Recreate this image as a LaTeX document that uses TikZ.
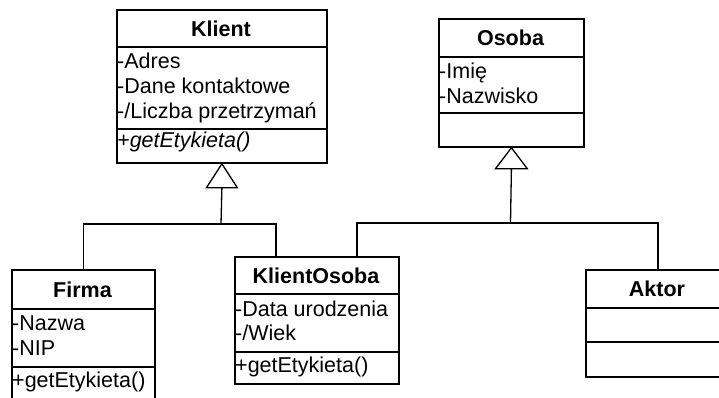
\documentclass[tikz,border=0pt]{standalone}
\usepackage{fontspec}
\setmainfont{Liberation Sans}
\usetikzlibrary{calc}
\newcommand\umlsize{\fontsize{21.5}{24.7}\selectfont}
\begin{document}
\begin{tikzpicture}[x=1pt,y=-1pt,
  cls/.style={draw, line width=1.8pt, anchor=north west, inner sep=0pt},
  sepline/.style={line width=1.8pt},
  conn/.style={line width=1.3pt},
  gen/.style={line width=1.3pt, fill=white},
  title/.style={font=\umlsize\bfseries, anchor=base, inner sep=0pt},
  member/.style={font=\umlsize, anchor=base west, inner sep=0pt},
  abstract/.style={font=\umlsize\itshape, anchor=base west, inner sep=0pt}]
\useasboundingbox (0,0) rectangle (719,397);
\clip (0,0) rectangle (719,397);

% ---- Klient ----
\node[cls, minimum width=210pt, minimum height=153pt] (klient) at (116,9) {};
\draw[sepline] (116,47) -- (326,47);
\draw[sepline] (116,129) -- (326,129);
\node[title] (klientT) at (221,36) {Klient};
\node[member] (klientA1) at (117,68) {-Adres};
\node[member] (klientA2) at (117,93) {-Dane kontaktowe};
\node[member] (klientA3) at (117,118) {-/Liczba przetrzymań};
\node[abstract] (klientM1) at (117,147) {+getEtykieta()};

% ---- Osoba ----
\node[cls, minimum width=145pt, minimum height=128pt] (osoba) at (438,18) {};
\draw[sepline] (438,57) -- (583,57);
\draw[sepline] (438,113) -- (583,113);
\node[title] (osobaT) at (510.5,45) {Osoba};
\node[member] (osobaA1) at (439,78) {-Imię};
\node[member] (osobaA2) at (439,103) {-Nazwisko};

% ---- Firma ----
\node[cls, minimum width=143pt, minimum height=140pt] (firma) at (11,269) {};
\draw[sepline] (11,309) -- (154,309);
\draw[sepline] (11,367) -- (154,367);
\node[title] (firmaT) at (82.5,297) {Firma};
\node[member] (firmaA1) at (12,330) {-Nazwa};
\node[member] (firmaA2) at (12,355) {-NIP};
\node[member] (firmaM1) at (12,387) {+getEtykieta()};

% ---- KlientOsoba ----
\node[cls, minimum width=164pt, minimum height=127pt] (ko) at (234,256) {};
\draw[sepline] (234,294) -- (398,294);
\draw[sepline] (234,352) -- (398,352);
\node[title] (koT) at (316,283) {KlientOsoba};
\node[member] (koA1) at (235,316) {-Data urodzenia};
\node[member] (koA2) at (235,340) {-/Wiek};
\node[member] (koM1) at (235,372) {+getEtykieta()};

% ---- Aktor ----
\node[cls, minimum width=144pt, minimum height=107pt] (aktor) at (585,269) {};
\draw[sepline] (585,308) -- (729,308);
\draw[sepline] (585,342) -- (729,342);
\node[title] (aktorT) at (657,296) {Aktor};

% ---- generalisation: Firma, KlientOsoba -> Klient ----
\draw[gen] (klient.south) -- ++(-15.5,24) -- ++(31,0) -- cycle;
\coordinate (ktip) at ($(klient.south)+(0,24)$);
\coordinate (kbus) at (221,224);
\coordinate (koLeft) at ($(ko.north west)+(42,0)$);
\coordinate (koRight) at ($(ko.north west)+(123,0)$);
\draw[conn] (ktip) -- (kbus);
\draw[conn] (firma.north) |- (kbus);
\draw[conn] (koLeft) |- (kbus);

% ---- generalisation: KlientOsoba, Aktor -> Osoba ----
\draw[gen] (osoba.south) -- ++(-16,21) -- ++(32,0) -- cycle;
\coordinate (otip) at ($(osoba.south)+(0,21)$);
\coordinate (obus) at (510.5,223);
\draw[conn] (otip) -- (obus);
\draw[conn] (koRight) |- (obus);
\draw[conn] (aktor.north) |- (obus);
\end{tikzpicture}
\end{document}
